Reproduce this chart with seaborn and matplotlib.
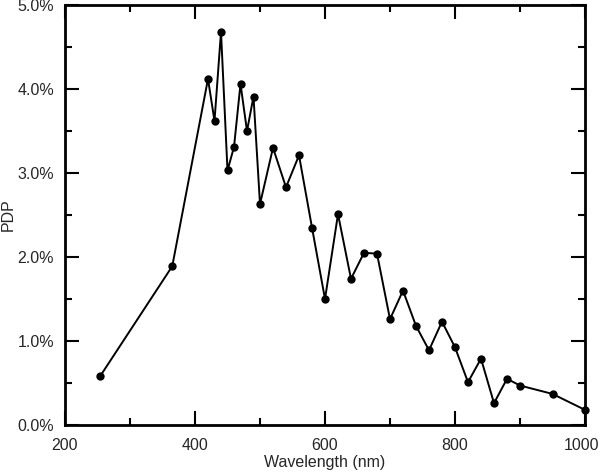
import matplotlib
matplotlib.use("Agg")
import matplotlib.pyplot as plt
from matplotlib.ticker import MultipleLocator, FuncFormatter
from matplotlib.transforms import ScaledTranslation
import seaborn as sns
import pandas as pd

wavelength = [254, 365, 420, 430, 440, 450, 460, 470, 480, 490, 500, 520, 540, 560,
              580, 600, 620, 640, 660, 680, 700, 720, 740, 760, 780, 800, 820, 840,
              860, 880, 900, 950, 1000]
pdp = [0.58, 1.89, 4.12, 3.62, 4.68, 3.03, 3.31, 4.06, 3.50, 3.91, 2.63, 3.30, 2.83, 3.21,
       2.35, 1.50, 2.51, 1.74, 2.05, 2.04, 1.26, 1.60, 1.18, 0.89, 1.23, 0.925, 0.51, 0.79,
       0.26, 0.55, 0.47, 0.37, 0.18]

df = pd.DataFrame({"Wavelength (nm)": wavelength, "PDP": pdp})

sns.set_style("ticks")
plt.rcParams["font.family"] = ["Liberation Sans", "DejaVu Sans"]

fig = plt.figure(figsize=(6, 4.73), dpi=100)
ax = fig.add_axes([65/600, 1-425/473, 520/600, 420/473])

sns.lineplot(data=df, x="Wavelength (nm)", y="PDP", ax=ax, color="black",
             marker="o", markersize=6, markeredgewidth=0, linewidth=1.4, clip_on=False)

ax.set_xlim(200, 1000)
ax.set_ylim(0, 5)
ax.xaxis.set_major_locator(MultipleLocator(200))
ax.xaxis.set_minor_locator(MultipleLocator(100))
ax.yaxis.set_major_locator(MultipleLocator(1))
ax.yaxis.set_minor_locator(MultipleLocator(0.5))
ax.yaxis.set_major_formatter(FuncFormatter(lambda v, p: f"{v:.1f}%"))

ax.tick_params(which="both", direction="in", top=True, right=True, width=1.5, labelsize=11.5, color="black")
ax.tick_params(which="major", length=10)
ax.tick_params(axis="x", which="major", pad=9)
ax.tick_params(axis="y", which="major", pad=8)
ax.tick_params(which="minor", length=5)
for s in ax.spines.values():
    s.set_linewidth(2)
    s.set_color("black")

ax.set_xlabel("Wavelength (nm)", fontsize=11.5)
ax.set_ylabel("PDP", fontsize=11.5)
ax.xaxis.set_label_coords(0.5, -0.072)
ax.yaxis.set_label_coords(-0.094, 0.5)

fig.canvas.draw()
for t in ax.xaxis.get_major_ticks():
    if abs(t.get_loc() - 1000) < 1e-6:
        t.label1.set_horizontalalignment("right")
        t.label1.set_transform(t.label1.get_transform() + ScaledTranslation(14/100, 0, fig.dpi_scale_trans))

fig.savefig("out.png", dpi=100)
